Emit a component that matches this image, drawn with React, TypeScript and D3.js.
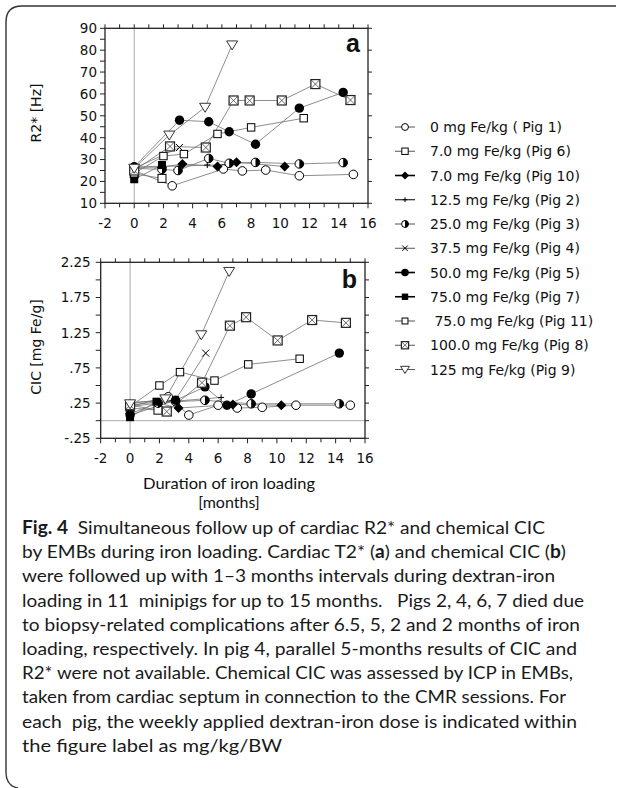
import React from "react";
import * as d3 from "d3";

type Pt = [number, number];

// Months of iron loading vs cardiac R2* [Hz] (panel a) and chemical CIC [mg Fe/g] (panel b)
const pig1R2: Pt[] = [[0, 25], [2.6, 18], [6.1, 25.7], [7.4, 24.8], [9.0, 25.2], [11.3, 22.6], [15.0, 23.2]];
const pig1CIC: Pt[] = [[0, 0.2], [2.6, 0.34], [4.0, 0.08], [6.0, 0.22], [7.3, 0.18], [9.0, 0.19], [11.3, 0.22], [15.0, 0.22]];
const pig6R2: Pt[] = [[0, 23.5], [1.9, 21.4]];
const pig6CIC: Pt[] = [[0, 0.18], [1.9, 0.15]];
const pig10R2: Pt[] = [[0, 26.5], [1.9, 26.5], [3.3, 28], [5.7, 26.8], [7.0, 28.8], [10.3, 26.8]];
const pig10CIC: Pt[] = [[0, 0.1], [1.9, 0.25], [3.3, 0.18], [7.0, 0.23], [10.3, 0.22]];
const pig2R2: Pt[] = [[0, 26.5], [1.9, 27], [3.2, 27], [5.0, 27.5], [6.5, 27.5]];
const pig2CIC: Pt[] = [[0, 0.26], [1.9, 0.28], [3.2, 0.28], [5.0, 0.31], [6.2, 0.33]];
const pig3R2: Pt[] = [[0, 26], [1.9, 25.5], [3.0, 25], [5.1, 30.5], [6.5, 28.3], [8.3, 28.7], [11.3, 28], [14.3, 28.6]];
const pig3CIC: Pt[] = [[0, 0.2], [1.9, 0.25], [3.1, 0.27], [5.1, 0.29], [8.25, 0.24], [14.25, 0.24]];
const pig4R2: Pt[] = [[0, 26], [3.1, 35.5]];
const pig4CIC: Pt[] = [[0, 0.22], [3.1, 0.3], [5.15, 0.96]];
const pig5R2: Pt[] = [[0, 26.7], [3.1, 48], [5.1, 47.3], [6.5, 42.7], [8.3, 37], [11.3, 53.5], [14.3, 60.7]];
const pig5CIC: Pt[] = [[0, 0.08], [3.1, 0.29], [5.1, 0.48], [6.6, 0.22], [8.25, 0.38], [14.25, 0.96]];
const pig7R2: Pt[] = [[0, 21], [1.9, 27.5]];
const pig7CIC: Pt[] = [[0, 0.05], [1.8, 0.27]];
const pig11R2: Pt[] = [[0, 23.7], [2.0, 31.6], [3.4, 32.5], [5.7, 41.7], [8.0, 44.7], [11.6, 48.9]];
const pig11CIC: Pt[] = [[0, 0.2], [2.0, 0.5], [3.4, 0.69], [5.75, 0.57], [8.05, 0.8], [11.55, 0.88]];
const pig8R2: Pt[] = [[0, 25], [2.45, 36], [4.9, 35.5], [6.8, 57], [7.9, 57], [10.1, 57], [12.4, 64.5], [14.8, 57.2]];
const pig8CIC: Pt[] = [[0, 0.22], [2.5, 0.13], [4.9, 0.54], [6.8, 1.35], [7.9, 1.47], [10.05, 1.14], [12.4, 1.43], [14.7, 1.39]];
const pig9R2: Pt[] = [[0, 26], [2.4, 41.2], [4.85, 53.9], [6.7, 82.4]];
const pig9CIC: Pt[] = [[0, 0.24], [2.4, 0.31], [4.85, 1.22], [6.75, 2.12]];

const legendLabels = [
  "0 mg Fe/kg ( Pig 1)",
  "7.0 mg Fe/kg (Pig 6)",
  "7.0 mg Fe/kg (Pig 10)",
  "12.5 mg Fe/kg (Pig 2)",
  "25.0 mg Fe/kg (Pig 3)",
  "37.5 mg Fe/kg (Pig 4)",
  "50.0 mg Fe/kg (Pig 5)",
  "75.0 mg Fe/kg (Pig 7)",
  " 75.0 mg Fe/kg (Pig 11)",
  "100.0 mg Fe/kg (Pig 8)",
  "125 mg Fe/kg (Pig 9)",
];
const markerKinds = [
  "circle", "square", "diamond", "plus", "half", "cross",
  "dot", "filledSquare", "smallSquare", "crossedSquare", "triangle",
];
const r2Series = [pig1R2, pig6R2, pig10R2, pig2R2, pig3R2, pig4R2, pig5R2, pig7R2, pig11R2, pig8R2, pig9R2];
const cicSeries = [pig1CIC, pig6CIC, pig10CIC, pig2CIC, pig3CIC, pig4CIC, pig5CIC, pig7CIC, pig11CIC, pig8CIC, pig9CIC];

const monthTicks = d3.range(-2, 17, 1);
const monthLabels = d3.range(-2, 17, 2);
const r2Ticks = d3.range(10, 91, 5);
const r2Labels = d3.range(10, 91, 10);
const cicTicks = d3.range(-0.25, 2.26, 0.25);
const cicLabels = [-0.25, 0.25, 0.75, 1.25, 1.75, 2.25];

// caption lines with the width each line is set to
const captionLines: { runs: { text: string; bold?: boolean }[]; width: number }[] = [
  { runs: [{ text: "Fig. 4", bold: true }, { text: "  Simultaneous follow up of cardiac R2* and chemical CIC" }], width: 523 },
  { runs: [{ text: "by EMBs during iron loading. Cardiac T2* (" }, { text: "a", bold: true }, { text: ") and chemical CIC (" }, { text: "b", bold: true }, { text: ")" }], width: 544 },
  { runs: [{ text: "were followed up with 1\u20133 months intervals during dextran-iron" }], width: 533 },
  { runs: [{ text: "loading in 11  minipigs for up to 15 months.   Pigs 2, 4, 6, 7 died due" }], width: 562 },
  { runs: [{ text: "to biopsy-related complications after 6.5, 5, 2 and 2 months of iron" }], width: 558 },
  { runs: [{ text: "loading, respectively. In pig 4, parallel 5-months results of CIC and" }], width: 555 },
  { runs: [{ text: "R2* were not available. Chemical CIC was assessed by ICP in EMBs," }], width: 551 },
  { runs: [{ text: "taken from cardiac septum in connection to the CMR sessions. For" }], width: 544 },
  { runs: [{ text: "each  pig, the weekly applied dextran-iron dose is indicated within" }], width: 555 },
  { runs: [{ text: "the figure label as mg/kg/BW" }], width: 260 },
];

const AXIS_FONT = "'DejaVu Sans', Verdana, sans-serif";
const CAPTION_FONT = "Lato, 'Open Sans', sans-serif";

function Marker({ kind, x, y, s = 1 }: { kind: string; x: number; y: number; s?: number }) {
  const r = 4.3 * s;
  switch (kind) {
    case "circle":
      return <circle cx={x} cy={y} r={r} fill="#fff" stroke="#000" strokeWidth={1} />;
    case "square":
      return <rect x={x - 4 * s} y={y - 4 * s} width={8 * s} height={8 * s} fill="#fff" stroke="#000" strokeWidth={1} />;
    case "smallSquare":
      return <rect x={x - 3.7 * s} y={y - 3.7 * s} width={7.4 * s} height={7.4 * s} fill="#fff" stroke="#000" strokeWidth={1} />;
    case "diamond":
      return <path d={`M${x},${y - 5 * s}L${x + 5 * s},${y}L${x},${y + 5 * s}L${x - 5 * s},${y}Z`} fill="#000" />;
    case "plus":
      return (
        <g stroke="#000" strokeWidth={1}>
          <line x1={x - 3 * s} x2={x + 3 * s} y1={y} y2={y} />
          <line x1={x} x2={x} y1={y - 3 * s} y2={y + 3 * s} />
        </g>
      );
    case "half":
      return (
        <g>
          <circle cx={x} cy={y} r={r} fill="#fff" stroke="#000" strokeWidth={1} />
          <path d={`M${x},${y - r}A${r},${r} 0 0 1 ${x},${y + r}Z`} fill="#000" />
        </g>
      );
    case "cross":
      return (
        <g stroke="#000" strokeWidth={1}>
          <line x1={x - 3.5 * s} x2={x + 3.5 * s} y1={y - 3.5 * s} y2={y + 3.5 * s} />
          <line x1={x - 3.5 * s} x2={x + 3.5 * s} y1={y + 3.5 * s} y2={y - 3.5 * s} />
        </g>
      );
    case "dot":
      return <circle cx={x} cy={y} r={4.7 * s} fill="#000" />;
    case "filledSquare":
      return <rect x={x - 4 * s} y={y - 4 * s} width={8 * s} height={8 * s} fill="#000" />;
    case "crossedSquare": {
      const h = 4.5 * s;
      return (
        <g>
          <rect x={x - h} y={y - h} width={2 * h} height={2 * h} fill="#fff" stroke="#222" strokeWidth={1.2} />
          <line x1={x - h} x2={x + h} y1={y - h} y2={y + h} stroke="#444" strokeWidth={0.8} />
          <line x1={x - h} x2={x + h} y1={y + h} y2={y - h} stroke="#444" strokeWidth={0.8} />
        </g>
      );
    }
    case "triangle":
      return (
        <path
          d={`M${x - 5.5 * s},${y - 4 * s}L${x + 5.5 * s},${y - 4 * s}L${x},${y + 5 * s}Z`}
          fill="#fff"
          stroke="#333"
          strokeWidth={1}
        />
      );
    default:
      return null;
  }
}

type PanelProps = {
  xRange: [number, number];
  yDomain: [number, number];
  yRange: [number, number];
  leftTicks: number[];
  leftLabels: number[];
  rightTicks: number[];
  fmt: (v: number) => string;
  data: Pt[][];
  letter: string;
  letterY: number;
  title: string;
  titleY: number;
  labelGap: number;
  xLabelY: number;
  zeroLine: boolean;
};

function Panel(p: PanelProps) {
  const x = d3.scaleLinear().domain([-2, 16]).range(p.xRange);
  const y = d3.scaleLinear().domain(p.yDomain).range(p.yRange);
  const [x0, x1] = p.xRange;
  const [yb, yt] = p.yRange;
  const line = d3
    .line<Pt>()
    .x((d) => x(d[0]))
    .y((d) => y(d[1]));
  return (
    <g>
      {/* reference lines */}
      <line x1={x(0)} x2={x(0)} y1={yt} y2={yb} stroke="#aaa" strokeWidth={1} />
      {p.zeroLine && <line x1={x0} x2={x1} y1={y(0)} y2={y(0)} stroke="#aaa" strokeWidth={1} />}

      {/* frame */}
      <rect x={x0} y={yt} width={x1 - x0} height={yb - yt} fill="none" stroke="#222" strokeWidth={1.3} />

      {/* month ticks, bottom and top */}
      {monthTicks.map((m) => (
        <g key={"mt" + m} stroke="#222" strokeWidth={1}>
          <line x1={x(m)} x2={x(m)} y1={yb} y2={yb + (m % 2 === 0 ? 5 : 4)} />
          <line x1={x(m)} x2={x(m)} y1={yt} y2={yt - 4} />
        </g>
      ))}
      {monthLabels.map((m) => (
        <text
          key={"ml" + m}
          x={x(m)}
          y={p.xLabelY}
          textAnchor="middle"
          fontFamily={AXIS_FONT}
          fontSize={13.5}
          fill="#111"
        >
          {String(m)}
        </text>
      ))}

      {/* value ticks, left and right */}
      {p.leftTicks.map((v, i) => (
        <line key={"lt" + i} x1={x0 - 5} x2={x0} y1={y(v)} y2={y(v)} stroke="#222" strokeWidth={1} />
      ))}
      {p.rightTicks.map((v, i) => (
        <line key={"rt" + i} x1={x1} x2={x1 + 4} y1={y(v)} y2={y(v)} stroke="#222" strokeWidth={1} />
      ))}
      {p.leftLabels.map((v, i) => (
        <text
          key={"ll" + i}
          x={x0 - p.labelGap}
          y={y(v)}
          dy="0.36em"
          textAnchor="end"
          fontFamily={AXIS_FONT}
          fontSize={13.5}
          fill="#111"
        >
          {p.fmt(v)}
        </text>
      ))}

      <text
        transform={`translate(36,${p.titleY}) rotate(-90)`}
        textAnchor="middle"
        dy="0.36em"
        fontFamily={AXIS_FONT}
        fontSize={14}
        fill="#111"
      >
        {p.title}
      </text>

      {/* series lines */}
      {p.data.map((s, i) => (
        <path key={"ln" + i} d={line(s) || ""} fill="none" stroke="#707070" strokeWidth={0.8} />
      ))}
      {/* series markers */}
      {p.data.map((s, i) =>
        s.map((d, j) => <Marker key={`mk${i}-${j}`} kind={markerKinds[i]} x={x(d[0])} y={y(d[1])} />)
      )}

      <text
        x={x1 - 8}
        y={p.letterY}
        textAnchor="end"
        fontFamily="'Liberation Sans', Arial, sans-serif"
        fontWeight="bold"
        fontSize={25}
        fill="#111"
      >
        {p.letter}
      </text>
    </g>
  );
}

const fmtR2 = (v: number) => String(v);
const fmtCIC = (v: number) => (v < 0 ? "-" : "") + Math.abs(v).toFixed(2).replace(/^0/, "");

export default function App() {
  const legendX = 395;
  const legendY0 = 127;
  const legendStep = 24.25;
  return (
    <svg
      width={622}
      height={788}
      viewBox="0 0 622 788"
      style={{ position: "absolute", left: 0, top: 0, background: "#fff" }}
    >
      <rect width={622} height={788} fill="#fff" />
      {/* caption bracket */}
      <path
        d="M18,788 Q6,786 6,772 L6,22 Q6,6 22,6 L616,6"
        fill="none"
        stroke="#333"
        strokeWidth={1.4}
      />

      <Panel
        xRange={[105, 368]}
        yDomain={[10, 90]}
        yRange={[203.3, 28.3]}
        leftTicks={r2Ticks}
        leftLabels={r2Labels}
        rightTicks={r2Labels}
        fmt={fmtR2}
        data={r2Series}
        letter="a"
        letterY={52}
        title="R2* [Hz]"
        titleY={113}
        labelGap={8}
        xLabelY={228}
        zeroLine={false}
      />
      <Panel
        xRange={[100.7, 365]}
        yDomain={[-0.25, 2.25]}
        yRange={[438.3, 262.3]}
        leftTicks={cicTicks}
        leftLabels={cicLabels}
        rightTicks={cicTicks}
        fmt={fmtCIC}
        data={cicSeries}
        letter="b"
        letterY={288}
        title="CIC [mg Fe/g]"
        titleY={347}
        labelGap={10}
        xLabelY={463}
        zeroLine={true}
      />

      {/* legend */}
      {legendLabels.map((lab, i) => {
        const ly = legendY0 + i * legendStep;
        const heavy = ["diamond", "dot", "filledSquare"].includes(markerKinds[i]);
        return (
          <g key={"lg" + i}>
            <line
              x1={legendX}
              x2={legendX + 20}
              y1={ly}
              y2={ly}
              stroke={heavy || markerKinds[i] === "plus" ? "#000" : "#555"}
              strokeWidth={heavy ? 1.6 : 1}
            />
            <Marker kind={markerKinds[i]} x={legendX + 10} y={ly} s={0.8} />
            <text
              x={legendX + 35}
              y={ly}
              dy="0.36em"
              fontFamily={AXIS_FONT}
              fontSize={14}
              fill="#111"
              style={{ whiteSpace: "pre" }}
            >
              {lab}
            </text>
          </g>
        );
      })}

      {/* x axis title */}
      <text
        x={143}
        y={489}
        fontFamily={CAPTION_FONT}
        fontSize={16}
        fill="#111"
        textLength={172}
        lengthAdjust="spacingAndGlyphs"
      >
        Duration of iron loading
      </text>
      <text x={229} y={508} textAnchor="middle" fontFamily={CAPTION_FONT} fontSize={16} fill="#111">
        [months]
      </text>

      {/* caption */}
      {captionLines.map((ln, i) => (
        <text
          key={"cap" + i}
          x={22}
          y={534 + i * 24.2}
          fontFamily={CAPTION_FONT}
          fontSize={18}
          fill="#1a1a1a"
          textLength={ln.width}
          lengthAdjust="spacingAndGlyphs"
          style={{ whiteSpace: "pre" }}
        >
          {ln.runs.map((r, j) => (
            <tspan key={j} fontWeight={r.bold ? "bold" : "normal"}>
              {r.text}
            </tspan>
          ))}
        </text>
      ))}
    </svg>
  );
}
